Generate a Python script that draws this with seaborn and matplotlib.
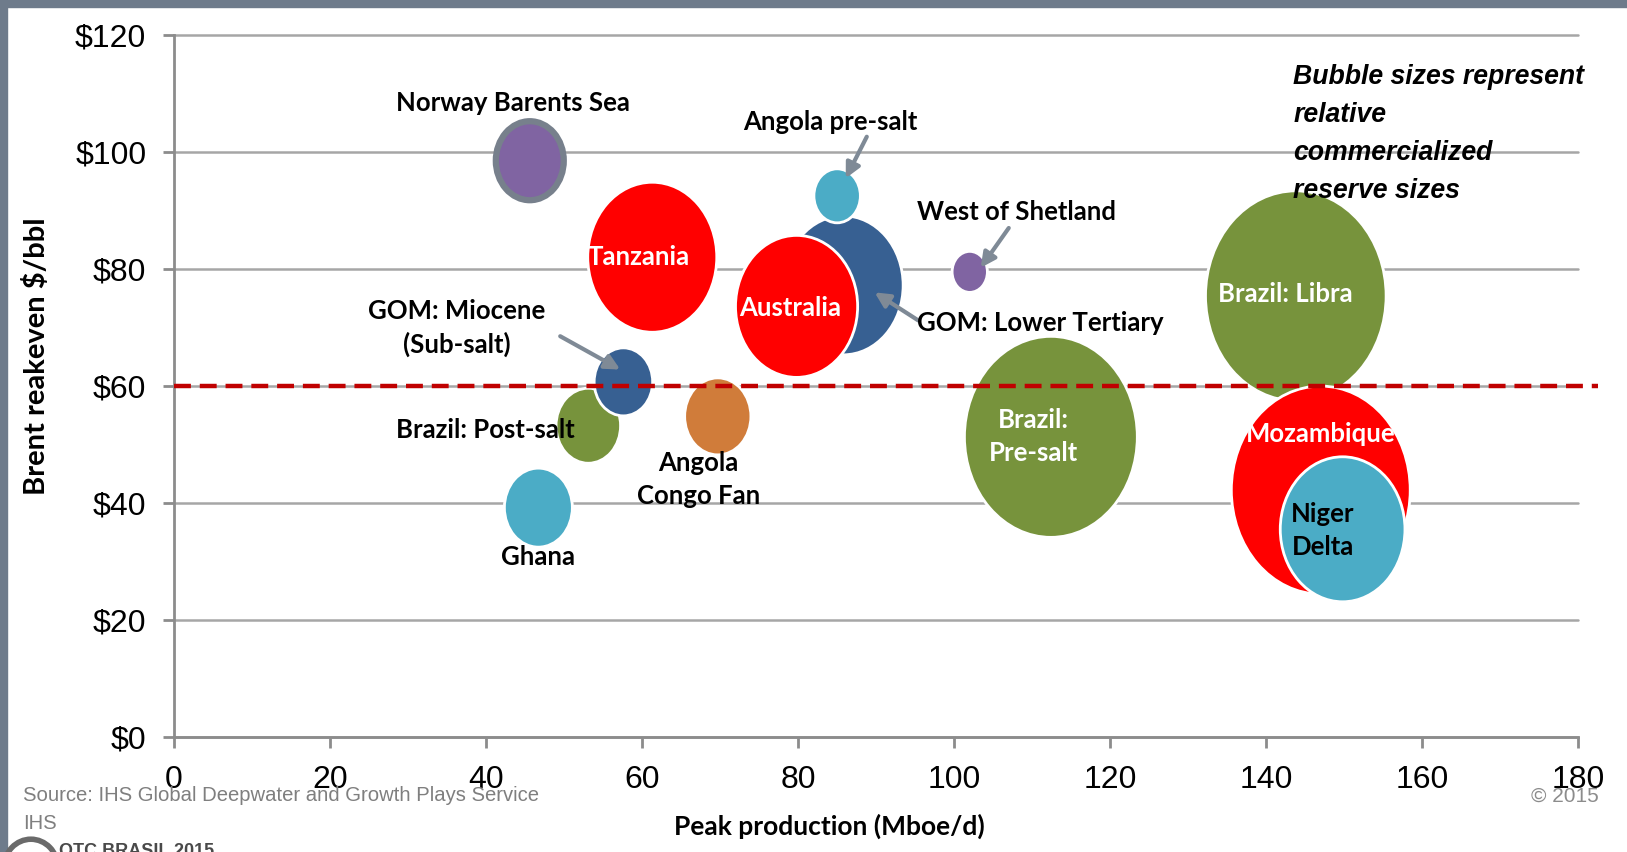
import numpy as np
import pandas as pd
import matplotlib
matplotlib.use("Agg")
import matplotlib.pyplot as plt
from matplotlib.path import Path
from matplotlib.markers import MarkerStyle
from matplotlib.patches import Rectangle, Ellipse
import seaborn as sns

# data (draw order matters: later bubbles sit on top)
plays = ["Norway Barents Sea", "Tanzania", "GOM: Lower Tertiary", "Angola pre-salt",
         "Australia", "West of Shetland", "Brazil: Post-salt", "GOM: Miocene",
         "Angola Congo Fan", "Ghana", "Brazil: Pre-salt", "Brazil: Libra",
         "Mozambique", "Niger Delta"]
peak_prod = [45.6, 61.3, 85.8, 85.0, 79.8, 102.0, 53.1, 57.6, 69.7, 46.7, 112.4, 143.8, 147.0, 149.8]
breakeven = [98.5, 82.0, 77.2, 92.5, 73.6, 79.5, 53.2, 60.7, 54.8, 39.2, 51.3, 75.4, 42.2, 35.5]
bubble_size = [79, 150, 139, 54, 142, 41, 75, 68, 77, 79, 201, 210, 208, 145]
colors = ["#8064A2", "#FF0000", "#376092", "#4BACC6", "#FF0000", "#8064A2", "#77933C",
          "#376092", "#D07C3A", "#4BACC6", "#77933C", "#77933C", "#FF0000", "#4BACC6"]
oil_price = 60

df = pd.DataFrame({"play": plays, "peak": peak_prod, "breakeven": breakeven,
                   "size": bubble_size})

sns.set_style("white")
plt.rcParams["font.family"] = ["Liberation Sans Narrow", "Liberation Sans", "DejaVu Sans"]
plt.rcParams["text.color"] = "black"
plt.rcParams["axes.labelcolor"] = "black"

fig = plt.figure(figsize=(16.27, 8.52), dpi=100)
ax = fig.add_axes([0.107, 0.135, 0.863, 0.824])

# bubbles are drawn slightly squashed in the original
circ = Path.unit_circle()
ellipse = MarkerStyle(Path(circ.vertices * [0.86, 1.0], circ.codes))

edges = ["#77808C" if p == "Norway Barents Sea" else "white" for p in plays]
widths = [4.5 if p == "Norway Barents Sea" else 2 for p in plays]
sns.scatterplot(data=df, x="peak", y="breakeven", hue="play",
                palette=dict(zip(plays, colors)), s=(df["size"] * 0.72) ** 2,
                marker=ellipse, edgecolor=edges, linewidth=widths,
                legend=False, ax=ax, zorder=3)

ax.axhline(oil_price, xmin=0, xmax=1.014, color="#C00000", lw=3.2,
           dashes=(3.8, 2), zorder=4, clip_on=False)

ax.set_xlim(0, 180)
ax.set_ylim(0, 120)
ax.set_xticks(range(0, 181, 20))
ax.set_yticks(range(0, 121, 20))
ax.set_yticklabels([f"${v}" for v in range(0, 121, 20)])
ax.yaxis.grid(True, color="#A6A6A6", lw=1.8, zorder=0)
for gl in ax.get_ygridlines():
    gl.set_clip_on(False)
ax.xaxis.grid(False)
for s in ["top", "right"]:
    ax.spines[s].set_visible(False)
for s in ["left", "bottom"]:
    ax.spines[s].set_color("#8C8C8C")
    ax.spines[s].set_linewidth(2)
ax.tick_params(axis="both", which="major", labelsize=23, length=8, width=2,
               color="#8C8C8C", labelcolor="black", pad=12, left=True, bottom=True)

lab = dict(family=["Lato", "DejaVu Sans"], fontweight="bold", fontsize=18.5)
ax.set_xlabel("Peak production (Mboe/d)", family=["Lato", "DejaVu Sans"],
              fontweight="bold", fontsize=19)
ax.xaxis.set_label_coords(0.467, -0.127)
ax.xaxis.label.set_va("center")
ax.set_ylabel("Brent reakeven $/bbl", family=["Lato", "DejaVu Sans"],
              fontweight="bold", fontsize=21)
ax.yaxis.set_label_coords(-0.098, 0.543)
ax.yaxis.label.set_va("center")

# bubble names
plain = [("Norway Barents Sea", 43.4, 108.3), ("Brazil: Post-salt", 39.9, 52.5),
         ("Angola\nCongo Fan", 67.2, 44.0), ("Ghana", 46.7, 30.7),
         ("Niger\nDelta", 147.3, 35.3)]
for t, x, y in plain:
    ax.text(x, y, t, ha="center", va="center", color="black", zorder=6,
            linespacing=1.45, **lab)
white = [("Tanzania", 59.6, 82.0), ("Australia", 79.0, 73.3),
         ("Brazil:\nPre-salt", 110.2, 51.3), ("Brazil: Libra", 142.5, 75.8),
         ("Mozambique", 147.0, 51.8)]
for t, x, y in white:
    ax.text(x, y, t, ha="center", va="center", color="white", zorder=6,
            linespacing=1.45, **lab)

arrow = dict(arrowstyle="-|>", color="#7F8A96", lw=3, mutation_scale=22,
             shrinkA=0, shrinkB=0)
callouts = [("Angola pre-salt", (84.1, 105.1), (88.8, 102.6), (86.1, 95.5)),
            ("West of Shetland", (108.0, 89.8), (107.0, 87.0), (103.4, 80.2)),
            ("GOM: Lower Tertiary", (111.0, 70.8), (95.4, 71.2), (89.8, 76.0)),
            ("GOM: Miocene\n(Sub-salt)", (36.2, 69.9), (49.5, 68.5), (57.2, 62.8))]
for t, txy, a0, a1 in callouts:
    ax.text(*txy, t, ha="center", va="center", zorder=6, linespacing=1.45,
            color="black", **lab)
    ax.annotate("", xy=a1, xytext=a0, arrowprops=arrow, zorder=5)

ax.text(0.797, 0.958, "Bubble sizes represent\nrelative\ncommercialized\nreserve sizes",
        transform=ax.transAxes, ha="left", va="top", fontsize=19.2, color="black",
        fontweight="bold", style="italic", family=["Liberation Sans", "DejaVu Sans"],
        linespacing=1.6, zorder=7)

# slide frame and footer
fig.patches.append(Rectangle((0, 0.992), 1, 0.008, transform=fig.transFigure,
                             color="#6E7B8B", zorder=10))
fig.patches.append(Rectangle((0, 0), 0.004, 1, transform=fig.transFigure,
                             color="#6E7B8B", zorder=10))
fig.patches.append(Ellipse((0.019, -0.018), 0.033, 0.066, transform=fig.transFigure,
                           facecolor="none", edgecolor="#6A6A6A", lw=4, zorder=10))
fig.text(0.014, 0.066, "Source: IHS Global Deepwater and Growth Plays Service",
         fontsize=14.6, color="#7F7F7F", family=["Liberation Sans", "DejaVu Sans"],
         va="center")
fig.text(0.014, 0.034, "IHS", fontsize=14.6, color="#7F7F7F",
         family=["Liberation Sans", "DejaVu Sans"], va="center")
fig.text(0.036, 0.011, "OTC BRASIL 2015", fontsize=13, color="#4A4A4A",
         fontweight="bold", family=["Liberation Sans Narrow", "Liberation Sans"],
         va="top")
fig.text(0.941, 0.066, "© 2015", fontsize=15, color="#8C8C8C",
         family=["Liberation Sans", "DejaVu Sans"], va="center")

fig.savefig("out.png", dpi=100)
